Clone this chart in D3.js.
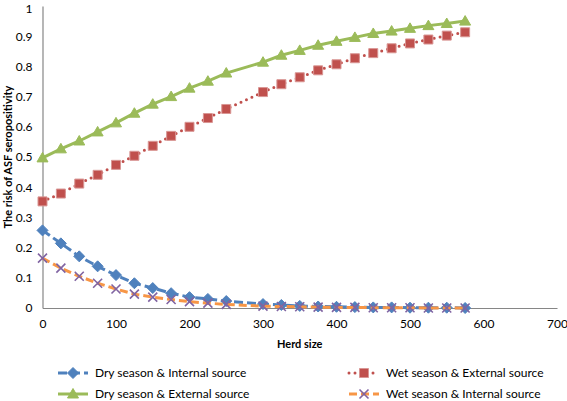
<!DOCTYPE html>
<html><head><meta charset="utf-8">
<script src="https://cdn.jsdelivr.net/npm/d3@7"></script>
<style>body{margin:0;background:#fff}svg{display:block}text{font-family:Lato,"Open Sans",sans-serif}</style>
</head><body>
<svg id="c" width="567" height="401"></svg>
<script>
const herdSize = [0,25,50,75,100,125,150,175,200,225,250,300,325,350,375,400,425,450,475,500,525,550,575];
const dryInternal = [0.257,0.214,0.171,0.138,0.109,0.082,0.066,0.049,0.036,0.030,0.023,0.013,0.010,0.007,0.005,0.004,0.003,0.002,0.002,0.001,0.001,0.001,0.000];
const wetExternal = [0.353,0.379,0.412,0.441,0.474,0.504,0.537,0.570,0.600,0.629,0.659,0.715,0.741,0.764,0.787,0.807,0.827,0.844,0.860,0.876,0.889,0.902,0.913];
const dryExternal = [0.497,0.527,0.553,0.583,0.613,0.645,0.675,0.700,0.728,0.751,0.778,0.814,0.837,0.853,0.870,0.883,0.896,0.909,0.917,0.926,0.935,0.942,0.950];
const wetInternal = [0.165,0.132,0.105,0.082,0.063,0.046,0.036,0.028,0.021,0.016,0.012,0.006,0.005,0.004,0.003,0.002,0.002,0.001,0.001,0.001,0.000,0.000,0.000];
const xTicks = [0,100,200,300,400,500,600,700];
const yTicks = [0,0.1,0.2,0.3,0.4,0.5,0.6,0.7,0.8,0.9,1];
const seriesNames = ["Dry season & Internal source","Wet season & External source","Dry season & External source","Wet season & Internal source"];

const svg = d3.select("#c");
const x = d3.scaleLinear().domain([0,700]).range([42.5,557]);
const y = d3.scaleLinear().domain([0,1]).range([308,6]);

const series = [
  {name:seriesNames[0], vals:dryInternal, color:"#4F81BD", dash:"9,4", width:3, cap:"butt", marker:"diamond", mfill:"#4F81BD", mstroke:"#4F81BD"},
  {name:seriesNames[1], vals:wetExternal, color:"#C0504D", dash:"0,6", width:3, cap:"round", marker:"square", mfill:"#C0504D", mstroke:"#D99694"},
  {name:seriesNames[2], vals:dryExternal, color:"#9BBB59", dash:null, width:3, cap:"butt", marker:"triangle", mfill:"#9BBB59", mstroke:"#9BBB59"},
  {name:seriesNames[3], vals:wetInternal, color:"#F79646", dash:"8,4", width:3, cap:"butt", marker:"x", mfill:"none", mstroke:"#8064A2"}
];

function markerPath(type){
  switch(type){
    case "diamond": return "M0,-5.5L5.5,0L0,5.5L-5.5,0Z";
    case "square": return "M-4.5,-4.5H4.5V4.5H-4.5Z";
    case "triangle": return "M0,-5.5L5.5,4L-5.5,4Z";
    case "x": return "M-4.5,-4.5L4.5,4.5M4.5,-4.5L-4.5,4.5";
  }
}

// axes
const gx = svg.append("g").attr("transform",`translate(0,${y(0)})`)
  .call(d3.axisBottom(x).tickValues(xTicks).tickSize(0).tickPadding(11).tickFormat(d3.format("d")));
gx.select(".domain").attr("stroke","#868686").attr("stroke-width",1.2);
gx.selectAll("text").attr("font-size",12).attr("fill","#000");

const gy = svg.append("g").attr("transform",`translate(${x(0)},0)`)
  .call(d3.axisLeft(y).tickValues(yTicks).tickSize(0).tickPadding(10).tickFormat(d=>d===0?"0":d===1?"1":d3.format(".1f")(d)));
gy.select(".domain").attr("stroke","#868686").attr("stroke-width",1.2);
gy.selectAll("text").attr("font-size",12).attr("fill","#000");
gy.selectAll(".tick").filter(d=>d===1).select("text").attr("dy","0.5em");

svg.append("text").attr("x",x(350)).attr("y",348).attr("text-anchor","middle")
  .attr("font-size",11).attr("font-weight","bold").text("Herd size");
svg.append("text").attr("transform",`translate(12,${(y(0)+y(1))/2}) rotate(-90)`).attr("text-anchor","middle")
  .attr("font-size",11).attr("font-weight","bold").text("The risk of ASF seropositivity");

const line = d3.line().x((d,i)=>x(herdSize[i])).y(d=>y(d));

series.forEach(s=>{
  const g = svg.append("g");
  g.append("path").datum(s.vals).attr("d",line).attr("fill","none")
    .attr("stroke",s.color).attr("stroke-width",s.width).attr("stroke-linecap",s.cap)
    .attr("stroke-dasharray",s.dash);
  g.selectAll("path.m").data(s.vals).join("path").attr("class","m")
    .attr("transform",(d,i)=>`translate(${x(herdSize[i])},${y(d)})`)
    .attr("d",markerPath(s.marker))
    .attr("fill",s.mfill).attr("stroke",s.mstroke).attr("stroke-width",s.marker==="x"?1.6:1);
});

// legend
const legPos = [[58,373],[349,373],[58,394],[349,394]];
series.forEach((s,i)=>{
  const [lx,ly] = legPos[i];
  const g = svg.append("g").attr("transform",`translate(${lx},${ly})`);
  g.append("line").attr("x1",0).attr("x2",30).attr("y1",0).attr("y2",0)
    .attr("stroke",s.color).attr("stroke-width",s.width).attr("stroke-linecap",s.cap)
    .attr("stroke-dasharray",s.dash);
  g.append("path").attr("transform","translate(15,0)").attr("d",markerPath(s.marker))
    .attr("fill",s.mfill).attr("stroke",s.mstroke).attr("stroke-width",s.marker==="x"?1.6:1);
  g.append("text").attr("x",37).attr("y",0).attr("dy","0.35em").attr("font-size",12).text(s.name);
});
</script>
</body></html>
